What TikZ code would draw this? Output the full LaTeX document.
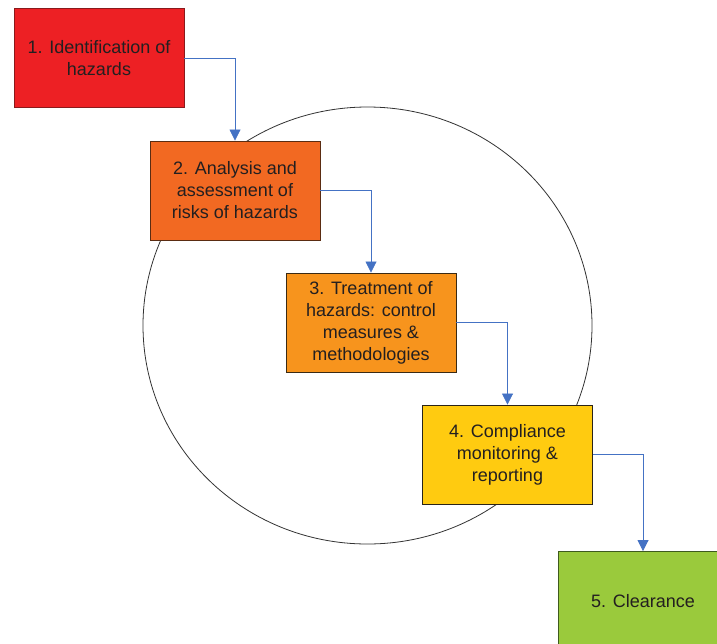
\documentclass[tikz,border=0pt]{standalone}
\usepackage{fontspec}
\setmainfont{Liberation Sans}
\usetikzlibrary{arrows.meta}
\definecolor{cRed}{HTML}{ED2024}
\definecolor{cRedB}{HTML}{8A1A1C}
\definecolor{cOr}{HTML}{F26922}
\definecolor{cOrB}{HTML}{5A2C12}
\definecolor{cOr2}{HTML}{F7941D}
\definecolor{cOr2B}{HTML}{3A2A14}
\definecolor{cYel}{HTML}{FFCB10}
\definecolor{cYelB}{HTML}{2A2418}
\definecolor{cGrn}{HTML}{9ACA3C}
\definecolor{cGrnB}{HTML}{3E5A1E}
\definecolor{cTxt}{HTML}{231F20}
\definecolor{cArr}{HTML}{4472C4}
\tikzset{
  stepbox/.style={draw, line width=0.9pt, minimum width=170pt, minimum height=99pt,
    inner sep=0pt, align=center, text=cTxt, font=\fontsize{18}{22}\selectfont},
  flowarrow/.style={draw=cArr, line width=0.8pt, -{Triangle[width=11pt,length=11pt]}}
}
\begin{document}
\begin{tikzpicture}[x=1pt,y=-1pt]
\useasboundingbox (0,0) rectangle (717,643);
\clip (0,0) rectangle (717,643);
\fill[white] (0,0) rectangle (717,643);
\draw[line width=0.8pt, draw=black!80] (367.5,325.5) ellipse [x radius=224.5, y radius=218.5];
\node[stepbox, fill=cRed, draw=cRedB] (box1) at (99,58) {1. Identification of\\hazards};
\node[stepbox, fill=cOr, draw=cOrB] (box2) at (235,190.5) {2. Analysis and\\assessment of\\risks of hazards};
\node[stepbox, fill=cOr2, draw=cOr2B] (box3) at (371,322.5) {3. Treatment of\\hazards: control\\measures \&\\methodologies};
\node[stepbox, fill=cYel, draw=cYelB] (box4) at (507.5,454.5) {4. Compliance\\monitoring \&\\reporting};
\node[stepbox, fill=cGrn, draw=cGrnB] (box5) at (643,601) {5. Clearance};
\draw[flowarrow] (box1.east) -| (box2.north);
\draw[flowarrow] (box2.east) -| (box3.north);
\draw[flowarrow] (box3.east) -| (box4.north);
\draw[flowarrow] (box4.east) -| (box5.north);
\end{tikzpicture}
\end{document}
